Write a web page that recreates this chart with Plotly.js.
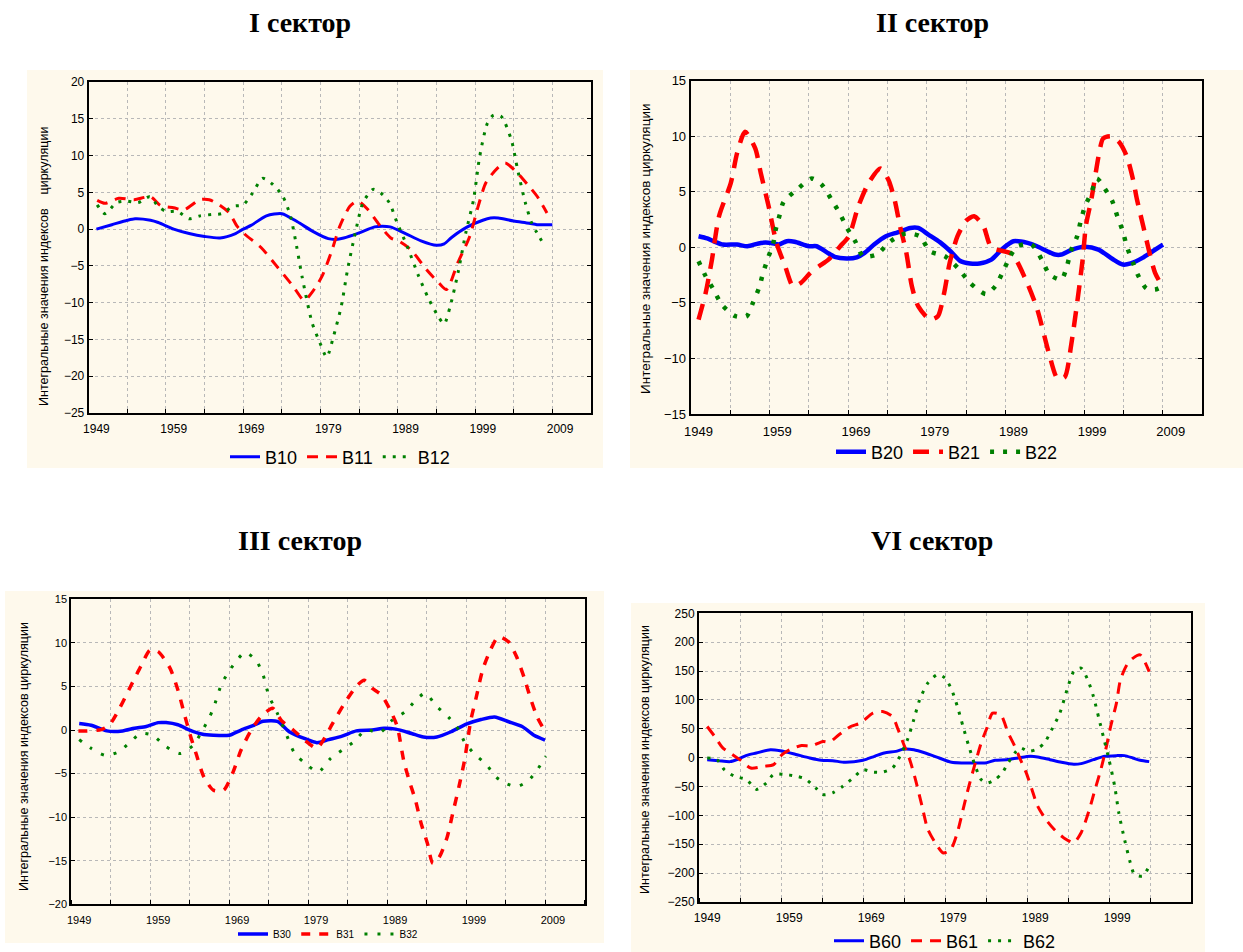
<!DOCTYPE html>
<html><head><meta charset="utf-8">
<script src="https://cdn.plot.ly/plotly-3.0.1.min.js"></script>
<style>html,body{margin:0;padding:0;background:#fff;} #chart{width:1243px;height:952px;}</style>
</head><body><div id="chart"></div>
<script>
// ---------- Panel I ----------
const B10_x = [1949,1951,1953,1954,1956,1957,1959,1961,1963,1965,1967,1968,1969,1971,1973,1975,1977,1979,1980,1981,1983,1985,1986,1987,1989,1991,1993,1994,1995,1997,1999,2000,2001,2003,2005,2006,2008];
const B10_y = [0.0,0.6,1.2,1.4,1.2,0.9,0.0,-0.6,-1.0,-1.2,-0.6,0.0,0.5,1.8,2.1,1.0,-0.3,-1.3,-1.4,-1.2,-0.5,0.3,0.4,0.3,-0.6,-1.6,-2.2,-2.0,-1.1,0.3,1.2,1.5,1.5,1.1,0.8,0.6,0.6];
const B11_x = [1949.1,1950.1,1951.9,1953.9,1956.0,1957.3,1959.0,1960.3,1962.4,1963.6,1964.9,1966.2,1967.2,1968.2,1970.3,1972.3,1974.4,1975.9,1976.9,1978.2,1979.5,1980.5,1981.8,1982.8,1984.1,1985.6,1987.1,1988.1,1989.7,1991.7,1993.3,1994.3,1995.8,1997.3,1998.4,1999.4,2000.9,2001.9,2003.5,2005.0,2006.0,2007.3];
const B11_y = [3.9,3.5,4.2,4.0,4.4,3.2,2.9,2.6,4.0,4.0,3.3,2.2,0.4,-0.7,-2.5,-5.0,-7.7,-9.7,-8.6,-6.4,-2.8,0.4,3.1,3.8,2.7,0.6,-1.2,-1.6,-2.8,-5.5,-7.3,-8.2,-4.5,-1.0,3.1,6.3,8.3,9.0,7.6,5.8,4.5,2.2];
const B12_x = [1949.1,1950.1,1951.6,1952.9,1954.4,1955.9,1957.0,1958.0,1959.5,1961.0,1962.4,1964.1,1965.2,1966.7,1968.0,1969.2,1970.5,1971.8,1973.1,1974.1,1974.9,1975.6,1976.9,1977.9,1978.8,1979.7,1980.7,1981.5,1982.5,1983.5,1984.8,1985.8,1986.9,1987.9,1989.2,1990.7,1992.0,1993.3,1994.0,1994.8,1995.8,1996.8,1997.8,1998.6,1999.6,2000.4,2001.4,2002.7,2003.5,2004.5,2005.3,2006.0,2006.9];
const B12_y = [3.3,2.1,3.6,3.8,3.6,4.4,3.1,2.4,2.4,1.4,1.8,2.0,2.1,3.1,3.3,4.9,6.9,6.1,4.5,1.8,-2.3,-6.4,-12.7,-15.4,-17.4,-14.5,-10.4,-5.5,-0.5,3.6,5.4,4.9,3.6,0.9,-2.3,-6.4,-9.5,-12.0,-12.9,-10.4,-5.9,-0.5,4.0,9.9,14.4,15.5,15.3,12.1,8.1,3.6,0.9,-0.5,-2.1];

// ---------- Panel II ----------
const B20_x = [1949.0,1950.1,1951.1,1952.1,1953.9,1955.2,1956.9,1958.2,1959.2,1960.2,1961.2,1963.0,1964.0,1965.3,1966.3,1967.8,1969.1,1970.1,1971.3,1972.8,1974.3,1975.9,1976.9,1978.2,1979.7,1981.0,1982.2,1983.5,1984.7,1986.2,1987.5,1989.0,1990.8,1992.0,1993.3,1994.3,1995.1,1996.3,1998.0,1999.8,2001.6,2002.9,2003.9,2005.4,2006.7,2008.0];
const B20_y = [1.0,0.8,0.5,0.25,0.25,0.1,0.4,0.4,0.25,0.55,0.5,0.1,0.1,-0.45,-0.85,-1.0,-0.9,-0.5,0.25,1.0,1.35,1.75,1.75,1.15,0.45,-0.35,-1.2,-1.45,-1.45,-1.1,-0.2,0.55,0.4,0.1,-0.35,-0.65,-0.65,-0.25,0.05,-0.2,-1.05,-1.55,-1.45,-0.95,-0.35,0.25];
const B21_x = [1949.0,1949.9,1950.7,1951.6,1953.1,1953.9,1954.9,1956.2,1956.9,1957.9,1958.9,1960.0,1961.0,1962.0,1963.2,1964.3,1965.5,1967.0,1968.1,1969.3,1970.6,1972.1,1973.1,1973.9,1974.6,1975.4,1976.1,1976.9,1978.4,1979.4,1980.2,1980.9,1981.9,1983.0,1984.0,1985.2,1986.2,1988.8,1990.5,1992.0,1993.5,1994.6,1995.5,1996.4,1997.8,1998.2,1998.9,1999.9,2000.4,2001.4,2002.4,2003.4,2004.2,2004.7,2005.5,2006.3,2007.0,2008.0];
const B21_y = [-6.5,-4.1,-1.1,2.8,5.8,8.5,10.4,8.9,6.7,3.7,0.4,-1.7,-3.5,-3.2,-2.3,-1.7,-1.1,0.1,1.0,3.7,5.8,7.1,6.1,4.3,1.9,-0.5,-3.5,-5.3,-6.5,-6.2,-4.1,-1.4,1.0,2.4,2.8,1.9,0.0,-0.6,-2.8,-5.5,-9.5,-11.8,-11.7,-8.5,-1.1,1.9,4.3,8.5,9.8,10.0,9.5,8.2,6.1,4.3,1.9,-0.5,-2.3,-3.6];
const B22_x = [1949.0,1949.9,1950.9,1952.0,1953.7,1955.1,1955.9,1956.7,1957.2,1957.8,1958.5,1958.8,1959.3,1959.8,1961.5,1963.4,1964.7,1965.8,1966.9,1967.9,1968.9,1969.9,1971.6,1973.4,1975.3,1977.1,1978.4,1980.3,1982.0,1983.5,1985.5,1986.7,1987.6,1988.6,1989.5,1991.3,1992.6,1993.6,1995.1,1995.8,1996.3,1997.1,1997.5,1998.1,1998.9,1999.6,2000.6,2001.6,2002.2,2002.9,2003.4,2004.2,2004.9,2005.9,2007.0,2008.0];
const B22_y = [-1.25,-2.6,-3.8,-5.2,-6.2,-6.2,-5.0,-3.6,-2.3,-1.0,0.4,1.6,2.9,4.1,5.2,6.2,5.6,4.4,3.1,1.7,0.55,-0.8,-0.65,0.55,1.25,1.0,-0.35,-0.8,-1.9,-3.2,-4.2,-3.5,-2.3,-0.8,0.1,0.25,-1.1,-2.45,-2.9,-1.7,-0.35,1.0,2.2,3.7,4.9,6.2,5.3,4.1,2.8,1.45,0.1,-1.4,-2.6,-3.7,-3.8,-3.5];

// ---------- Panel III ----------
const B30_x = [1949.0,1950.5,1952.5,1954.5,1956.0,1957.5,1959.0,1960.0,1961.5,1963.0,1964.5,1966.0,1968.0,1969.5,1971.0,1972.3,1974.1,1975.6,1977.6,1979.1,1980.6,1982.3,1984.1,1986.1,1987.6,1989.1,1991.1,1992.6,1994.3,1996.1,1998.1,1999.9,2001.6,2003.4,2005.1,2006.6,2008.0];
const B30_y = [0.75,0.55,-0.1,-0.1,0.2,0.4,0.85,0.85,0.6,0.0,-0.45,-0.6,-0.6,0.0,0.5,1.0,1.0,-0.2,-1.0,-1.45,-1.1,-0.7,-0.1,0.0,0.2,0.1,-0.4,-0.8,-0.8,-0.2,0.7,1.2,1.5,0.95,0.4,-0.6,-1.15];
const B31_x = [1948.9,1950.0,1951.8,1952.8,1954.0,1955.5,1956.8,1958.0,1959.0,1960.5,1961.5,1962.3,1963.0,1963.8,1964.8,1966.0,1967.3,1968.5,1969.5,1970.8,1972.0,1973.5,1974.6,1976.1,1977.6,1979.1,1979.8,1981.1,1982.6,1984.1,1985.1,1986.1,1987.3,1988.6,1989.3,1990.1,1990.8,1991.6,1992.3,1993.1,1993.8,1994.6,1995.6,1996.3,1997.1,1997.8,1998.6,1999.3,2000.1,2001.1,2002.1,2003.4,2004.4,2005.4,2006.1,2007.0,2007.9];
const B31_y = [-0.1,-0.1,0.05,0.55,2.3,5.0,7.3,9.2,9.0,7.1,4.6,1.9,-0.4,-2.7,-5.4,-6.9,-6.9,-4.8,-2.3,0.0,1.5,2.5,1.1,0.0,-1.2,-2.1,-1.35,0.75,3.05,5.0,5.7,4.8,4.0,1.9,0.35,-3.5,-5.8,-8.1,-10.7,-13.0,-15.3,-14.6,-12.3,-9.6,-6.5,-3.5,1.1,3.8,6.9,9.2,10.7,10.1,8.4,5.9,3.8,1.5,0.0];
const B32_x = [1949.0,1950.5,1952.3,1954.0,1955.5,1956.8,1958.3,1960.0,1961.8,1963.5,1964.5,1965.3,1966.0,1967.0,1967.8,1968.8,1970.0,1971.4,1972.3,1973.0,1974.1,1975.1,1976.3,1977.6,1979.3,1980.8,1982.3,1983.8,1985.3,1987.1,1988.6,1990.3,1991.6,1992.8,1994.3,1995.8,1997.1,1997.8,1999.0,2000.6,2001.8,2003.0,2004.4,2005.9,2007.0,2008.1];
const B32_y = [-1.1,-2.1,-2.9,-2.5,-1.35,-0.4,-0.6,-1.9,-2.7,-1.7,-0.2,1.1,2.5,5.2,6.5,7.8,8.9,8.0,6.3,4.0,1.9,-0.2,-2.7,-3.8,-4.8,-3.3,-2.3,-1.35,0.0,-0.3,1.1,2.1,3.4,4.2,2.7,1.45,0.0,-1.35,-2.7,-4.0,-5.4,-6.1,-6.5,-5.8,-4.6,-3.0];

// ---------- Panel VI ----------
const B60_x = [1949.0,1950.4,1951.8,1952.8,1953.8,1955.0,1956.7,1957.9,1959.5,1961.5,1962.9,1964.3,1965.8,1968.0,1969.4,1970.6,1972.0,1973.0,1974.2,1975.6,1977.3,1978.8,1980.2,1981.7,1982.9,1984.1,1985.5,1986.9,1988.4,1989.3,1990.8,1992.2,1993.7,1994.6,1996.1,1997.5,1998.9,1999.9,2000.9,2001.8,2002.9];
const B60_y = [-3.5,-5.2,-6.9,-2.3,4.0,8.1,13.8,12.1,6.9,-0.6,-4.6,-5.2,-8.1,-4.6,2.3,8.1,10.9,15.0,13.8,8.1,-0.6,-8.1,-9.2,-9.2,-9.2,-4.6,-3.5,-0.6,2.3,1.2,-3.5,-8.1,-11.5,-10.4,-3.5,2.3,3.5,3.5,-0.6,-4.6,-6.9];
const B61_x = [1949.0,1949.9,1950.9,1952.1,1953.0,1954.3,1955.9,1957.1,1958.1,1959.1,1960.5,1961.7,1963.1,1963.9,1965.1,1966.5,1967.7,1969.2,1970.4,1971.6,1972.3,1973.0,1973.7,1974.4,1975.2,1975.9,1976.8,1977.8,1978.7,1979.5,1980.2,1980.9,1981.7,1982.4,1983.1,1983.8,1984.8,1985.7,1986.5,1987.2,1987.9,1988.6,1989.3,1990.3,1991.3,1992.5,1993.7,1994.6,1995.6,1996.3,1997.0,1997.6,1998.2,1998.9,1999.4,2000.2,2000.9,2001.8,2002.9];
const B61_y = [54,37,17,5,-3.5,-18,-15,-12,5,14,21,20,28,27,40,54,60,77,80,71,48,22,-3.5,-38,-84,-124,-147,-165,-159,-130,-90,-50,-9,25,51,77,74,43,20,-3.5,-26,-55,-84,-107,-124,-139,-147,-130,-90,-55,-21,14,54,94,135,161,172,178,149];
const B62_x = [1949.0,1950.2,1951.1,1952.3,1953.8,1955.0,1956.2,1957.1,1958.3,1959.8,1961.0,1962.2,1963.1,1964.3,1965.5,1966.8,1968.0,1969.2,1970.4,1971.6,1972.5,1973.5,1974.2,1974.9,1975.9,1977.1,1978.0,1978.8,1979.5,1980.2,1980.9,1981.7,1982.4,1983.1,1984.1,1985.0,1985.7,1986.5,1987.2,1988.1,1989.1,1990.1,1991.0,1992.0,1993.0,1993.7,1994.6,1995.4,1996.1,1996.8,1997.3,1998.0,1998.7,1999.2,1999.9,2000.6,2001.1,2002.1,2002.9];
const B62_y = [-0.6,-3.5,-21,-32,-38,-55,-44,-29,-29,-32,-37,-52,-64,-61,-50,-35,-21,-25,-25,-18,2,34,66,100,129,144,138,118,89,54,20,-15,-38,-44,-38,-26,-9,8,17,11,14,25,48,77,123,149,155,135,106,66,37,-3.5,-50,-96,-142,-182,-202,-205,-188];

// tick labels / titles
const sectorTitles = ['I сектор','II сектор','III сектор','VI сектор'];
const yTitleP1 = 'Интегральные значения индексов\u00a0\u00a0\u00a0\u00a0циркуляции';
const yTitle = 'Интегральные значения индексов циркуляции';

// ---------- layout helpers (pixel -> paper) ----------
const W = 1243, H = 952;
const px = v => v / W;
const py = v => 1 - v / H;
const SANS = 'Liberation Sans, Arial, sans-serif';
const SERIF = 'Liberation Serif, Times New Roman, serif';
const BLUE = '#0000ff', RED = '#ff0000', GREEN = '#008000';

function tr(x, y, name, xa, ya, color, width, dash, legend) {
  return {type:'scatter', mode:'lines', x, y, name, xaxis:xa, yaxis:ya, legend,
    line:{color, width, dash, shape:'spline', smoothing:0.7}, hoverinfo:'skip'};
}

const data = [
  tr(B10_x,B10_y,'B10','x','y',BLUE,3,'solid','legend'),
  tr(B11_x,B11_y,'B11','x','y',RED,3,'11px,8px','legend'),
  tr(B12_x,B12_y,'B12','x','y',GREEN,3,'3px,7px','legend'),
  tr(B20_x,B20_y,'B20','x2','y2',BLUE,4.5,'solid','legend2'),
  tr(B21_x,B21_y,'B21','x2','y2',RED,4.5,'16px,10px','legend2'),
  tr(B22_x,B22_y,'B22','x2','y2',GREEN,4.5,'4px,9px','legend2'),
  tr(B30_x,B30_y,'B30','x3','y3',BLUE,3.5,'solid','legend3'),
  tr(B31_x,B31_y,'B31','x3','y3',RED,3.5,'9px,9px','legend3'),
  tr(B32_x,B32_y,'B32','x3','y3',GREEN,3,'3px,10px','legend3'),
  tr(B60_x,B60_y,'B60','x4','y4',BLUE,3,'solid','legend4'),
  tr(B61_x,B61_y,'B61','x4','y4',RED,3,'11px,8px','legend4'),
  tr(B62_x,B62_y,'B62','x4','y4',GREEN,3,'3px,7px','legend4'),
];

function xAx(x0, x1, y, range, fs) {
  return {domain:[px(x0), px(x1)], anchor:y, range, tickmode:'linear', tick0:1949, dtick:10,
    showgrid:false, ticks:'', showline:true, linecolor:'#000', linewidth:2, mirror:true,
    zeroline:false, fixedrange:true, ticklabelstandoff:4,
    tickfont:{family:SANS, size:fs, color:'#000'},
    minor:{tickmode:'linear', tick0:1948, dtick:5, showgrid:true, gridcolor:'#b8b8b8',
      griddash:'dot', gridwidth:1, ticks:'inside', ticklen:4, tickcolor:'#000'}};
}
function yAx(y0, y1, x, range, dt, fs) {
  return {domain:[py(y1), py(y0)], anchor:x, range, tickmode:'linear', tick0:range[0], dtick:dt,
    showgrid:true, gridcolor:'#b8b8b8', griddash:'dot', gridwidth:1,
    ticks:'inside', ticklen:4, tickcolor:'#000', showline:true, linecolor:'#000', linewidth:2,
    mirror:'allticks', zeroline:false, fixedrange:true,
    tickfont:{family:SANS, size:fs, color:'#000'}};
}
function leg(cx, cy, fs) {
  return {orientation:'h', x:px(cx), xanchor:'center', y:py(cy), yanchor:'middle',
    bgcolor:'rgba(0,0,0,0)', font:{family:SANS, size:fs, color:'#000'}, itemwidth:30,
    traceorder:'normal', tracegroupgap:0};
}
function cream(x0, x1, y0, y1) {
  return {type:'rect', xref:'paper', yref:'paper', x0:px(x0), x1:px(x1), y0:py(y1), y1:py(y0),
    fillcolor:'#fef9ec', line:{width:0}, layer:'below'};
}
function ttl(text, cx, cy) {
  return {text:'<b>'+text+'</b>', xref:'paper', yref:'paper', x:px(cx), y:py(cy),
    xanchor:'center', yanchor:'middle', showarrow:false, font:{family:SERIF, size:28, color:'#000'}};
}
function ytl(text, cx, cy, fs) {
  return {text, xref:'paper', yref:'paper', x:px(cx), y:py(cy), textangle:-90,
    xanchor:'center', yanchor:'middle', showarrow:false, font:{family:SANS, size:fs, color:'#000'}};
}

const layout = {
  width:W, height:H, margin:{l:0,r:0,t:0,b:0, autoexpand:false}, paper_bgcolor:'#ffffff', plot_bgcolor:'#ffffff',
  showlegend:true,
  xaxis:  xAx(88.7, 591, 'y',  [1948, 2013], 12),
  yaxis:  yAx(82, 413, 'x',  [-25, 20], 5, 12),
  xaxis2: xAx(690.7, 1202.3, 'y2', [1948, 2013], 13),
  yaxis2: yAx(80.7, 414, 'x2', [-15, 15], 5, 13),
  xaxis3: xAx(71.3, 584.5, 'y3', [1948, 2013], 11),
  yaxis3: yAx(599.3, 904.3, 'x3', [-20, 15], 5, 11),
  xaxis4: xAx(699, 1191, 'y4', [1948, 2008], 12),
  yaxis4: yAx(613.3, 902, 'x4', [-250, 250], 50, 12),
  legend:  leg(340, 457, 18),
  legend2: leg(947, 452, 18),
  legend3: leg(328, 934, 10),
  legend4: leg(945, 941, 18),
  shapes:[cream(27,603,70,468), cream(630,1243,70,468), cream(5,604,591,943), cream(631,1205,603,952)],
  annotations:[
    ttl(sectorTitles[0], 300, 22), ttl(sectorTitles[1], 932, 22),
    ttl(sectorTitles[2], 300, 540), ttl(sectorTitles[3], 932, 540),
    ytl(yTitleP1, 44, 267, 12.5), ytl(yTitle, 646, 249, 13.5),
    ytl(yTitle, 24, 757, 12.5), ytl(yTitle, 645, 760, 12.5)
  ]
};

Plotly.newPlot('chart', data, layout, {displayModeBar:false, staticPlot:true});
</script></body></html>
